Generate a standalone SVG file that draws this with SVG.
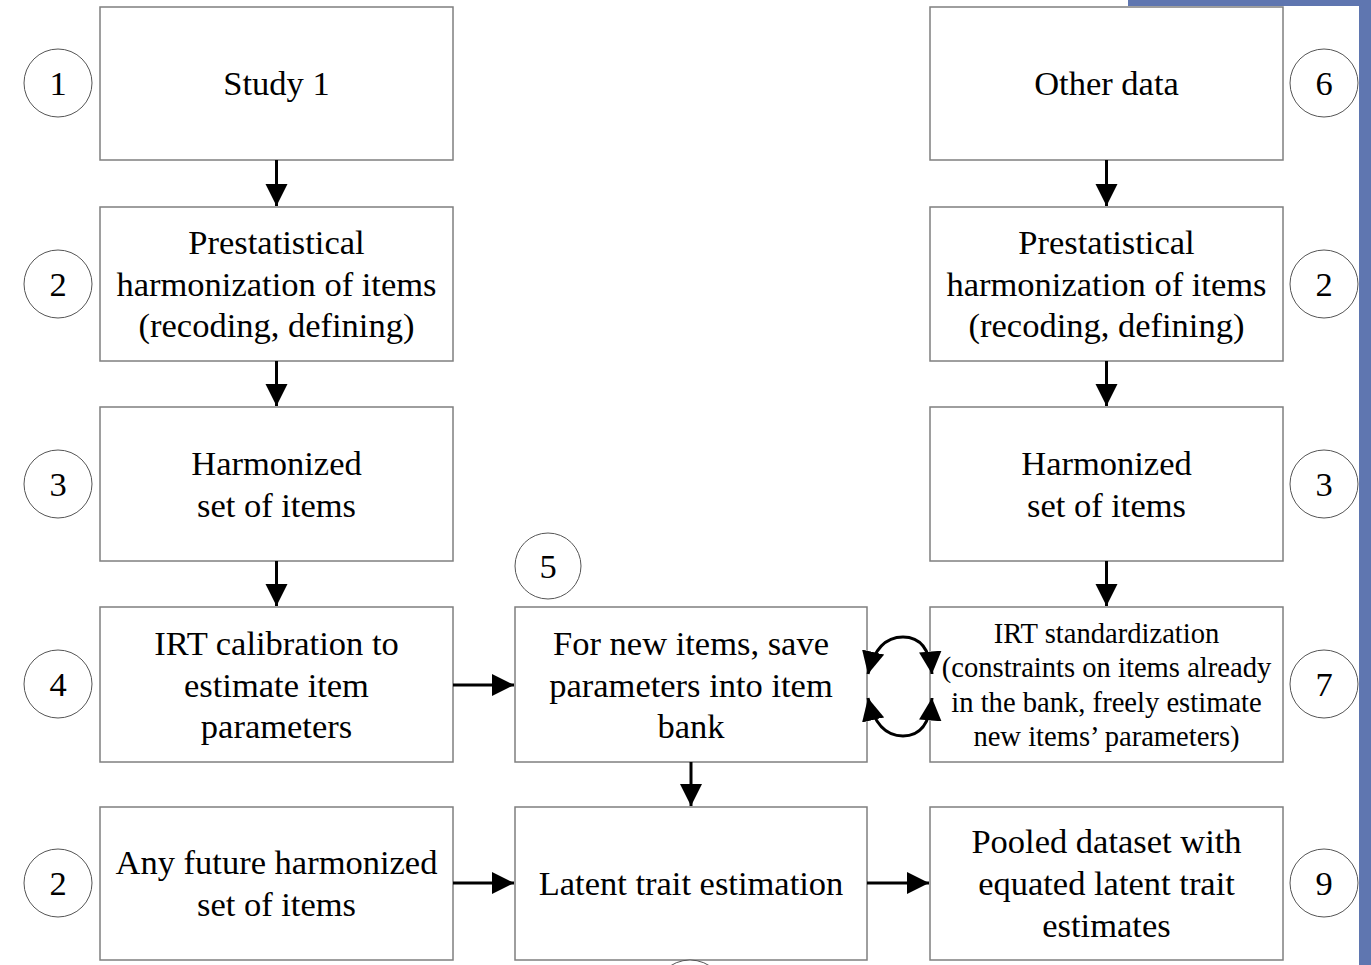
<svg xmlns="http://www.w3.org/2000/svg" width="1371" height="965" viewBox="0 0 1371 965">
  <style>
    .box { fill: #ffffff; stroke: #7f7f7f; stroke-width: 1.5; }
    .num { fill: #ffffff; stroke: #555555; stroke-width: 1; }
    .t { font-family: "Liberation Serif", "Times New Roman", serif; font-size: 34.5px; fill: #000000; text-anchor: middle; }
    .s { font-family: "Liberation Serif", "Times New Roman", serif; font-size: 28.6px; fill: #000000; text-anchor: middle; }
    .edge { fill: none; stroke: #000000; stroke-width: 3; }
  </style>
  <defs>
    <marker id="arrow" viewBox="0 0 10 10" refX="10" refY="5" markerWidth="7.5" markerHeight="7.5" markerUnits="strokeWidth" orient="auto">
      <path d="M0,0 L10,5 L0,10 Z" fill="#000000"/>
    </marker>
  </defs>

  <rect x="0" y="0" width="1371" height="965" fill="#ffffff"/>

  <!-- frame band on the top right and right edge -->
  <rect x="1128" y="0" width="243" height="6" fill="#5f76b0"/>
  <rect x="1359" y="0" width="12" height="965" fill="#5f76b0"/>

  <!-- left column -->
  <g id="study1">
    <rect class="box" x="100" y="7" width="353" height="153"/>
    <text class="t" x="276.5" y="95">Study 1</text>
  </g>
  <g id="harmonization-left">
    <rect class="box" x="100" y="207" width="353" height="154"/>
    <text class="t" x="276.5" y="254">Prestatistical</text>
    <text class="t" x="276.5" y="296">harmonization of items</text>
    <text class="t" x="276.5" y="337">(recoding, defining)</text>
  </g>
  <g id="harmonized-left">
    <rect class="box" x="100" y="407" width="353" height="154"/>
    <text class="t" x="276.5" y="475">Harmonized</text>
    <text class="t" x="276.5" y="517">set of items</text>
  </g>
  <g id="irt-calibration">
    <rect class="box" x="100" y="607" width="353" height="155"/>
    <text class="t" x="276.5" y="655">IRT calibration to</text>
    <text class="t" x="276.5" y="697">estimate item</text>
    <text class="t" x="276.5" y="738">parameters</text>
  </g>
  <g id="future-items">
    <rect class="box" x="100" y="807" width="353" height="153"/>
    <text class="t" x="276.5" y="874">Any future harmonized</text>
    <text class="t" x="276.5" y="916">set of items</text>
  </g>

  <!-- middle column -->
  <g id="item-bank">
    <rect class="box" x="515" y="607" width="352" height="155"/>
    <text class="t" x="691" y="655">For new items, save</text>
    <text class="t" x="691" y="697">parameters into item</text>
    <text class="t" x="691" y="738">bank</text>
  </g>
  <g id="latent-trait">
    <rect class="box" x="515" y="807" width="352" height="153"/>
    <text class="t" x="691" y="895">Latent trait estimation</text>
  </g>

  <!-- right column -->
  <g id="other-data">
    <rect class="box" x="930" y="7" width="353" height="153"/>
    <text class="t" x="1106.5" y="95">Other data</text>
  </g>
  <g id="harmonization-right">
    <rect class="box" x="930" y="207" width="353" height="154"/>
    <text class="t" x="1106.5" y="254">Prestatistical</text>
    <text class="t" x="1106.5" y="296">harmonization of items</text>
    <text class="t" x="1106.5" y="337">(recoding, defining)</text>
  </g>
  <g id="harmonized-right">
    <rect class="box" x="930" y="407" width="353" height="154"/>
    <text class="t" x="1106.5" y="475">Harmonized</text>
    <text class="t" x="1106.5" y="517">set of items</text>
  </g>
  <g id="irt-standardization">
    <rect class="box" x="930" y="607" width="353" height="155"/>
    <text class="s" x="1106.5" y="643">IRT standardization</text>
    <text class="s" x="1106.5" y="677">(constraints on items already</text>
    <text class="s" x="1106.5" y="712">in the bank, freely estimate</text>
    <text class="s" x="1106.5" y="746">new items’ parameters)</text>
  </g>
  <g id="pooled-dataset">
    <rect class="box" x="930" y="807" width="353" height="153"/>
    <text class="t" x="1106.5" y="853">Pooled dataset with</text>
    <text class="t" x="1106.5" y="895">equated latent trait</text>
    <text class="t" x="1106.5" y="937">estimates</text>
  </g>

  <!-- step numbers -->
  <g id="step-1"><circle class="num" cx="58" cy="83" r="34"/><text class="t" x="58" y="95">1</text></g>
  <g id="step-2a"><circle class="num" cx="58" cy="284" r="34"/><text class="t" x="58" y="296">2</text></g>
  <g id="step-3a"><circle class="num" cx="58" cy="484" r="34"/><text class="t" x="58" y="496">3</text></g>
  <g id="step-4"><circle class="num" cx="58" cy="684" r="34"/><text class="t" x="58" y="696">4</text></g>
  <g id="step-2c"><circle class="num" cx="58" cy="883" r="34"/><text class="t" x="58" y="895">2</text></g>
  <g id="step-5"><circle class="num" cx="548" cy="566" r="33"/><text class="t" x="548" y="578">5</text></g>
  <g id="step-6"><circle class="num" cx="1324" cy="83" r="34"/><text class="t" x="1324" y="95">6</text></g>
  <g id="step-2b"><circle class="num" cx="1324" cy="284" r="34"/><text class="t" x="1324" y="296">2</text></g>
  <g id="step-3b"><circle class="num" cx="1324" cy="484" r="34"/><text class="t" x="1324" y="496">3</text></g>
  <g id="step-7"><circle class="num" cx="1324" cy="684" r="34"/><text class="t" x="1324" y="696">7</text></g>
  <g id="step-9"><circle class="num" cx="1324" cy="883" r="34"/><text class="t" x="1324" y="895">9</text></g>
  <g id="step-bottom"><circle class="num" cx="690" cy="996" r="36"/></g>

  <!-- connectors -->
  <g id="connectors">
    <line class="edge" x1="276.5" y1="160" x2="276.5" y2="206" marker-end="url(#arrow)"/>
    <line class="edge" x1="276.5" y1="361" x2="276.5" y2="406" marker-end="url(#arrow)"/>
    <line class="edge" x1="276.5" y1="561" x2="276.5" y2="606" marker-end="url(#arrow)"/>
    <line class="edge" x1="1106.5" y1="160" x2="1106.5" y2="206" marker-end="url(#arrow)"/>
    <line class="edge" x1="1106.5" y1="361" x2="1106.5" y2="406" marker-end="url(#arrow)"/>
    <line class="edge" x1="1106.5" y1="561" x2="1106.5" y2="606" marker-end="url(#arrow)"/>
    <line class="edge" x1="691" y1="762" x2="691" y2="806" marker-end="url(#arrow)"/>
    <line class="edge" x1="453" y1="685" x2="514" y2="685" marker-end="url(#arrow)"/>
    <line class="edge" x1="453" y1="883" x2="514" y2="883" marker-end="url(#arrow)"/>
    <line class="edge" x1="867" y1="883" x2="929" y2="883" marker-end="url(#arrow)"/>
    <!-- exchange between item bank and standardization -->
    <path class="edge" d="M903,637 C886,637 874,648 868,674" marker-end="url(#arrow)"/>
    <path class="edge" d="M903,637 C920,637 930,648 932,674" marker-end="url(#arrow)"/>
    <path class="edge" d="M903,736 C886,736 874,724 868,698" marker-end="url(#arrow)"/>
    <path class="edge" d="M903,736 C920,736 930,724 932,698" marker-end="url(#arrow)"/>
  </g>
</svg>
